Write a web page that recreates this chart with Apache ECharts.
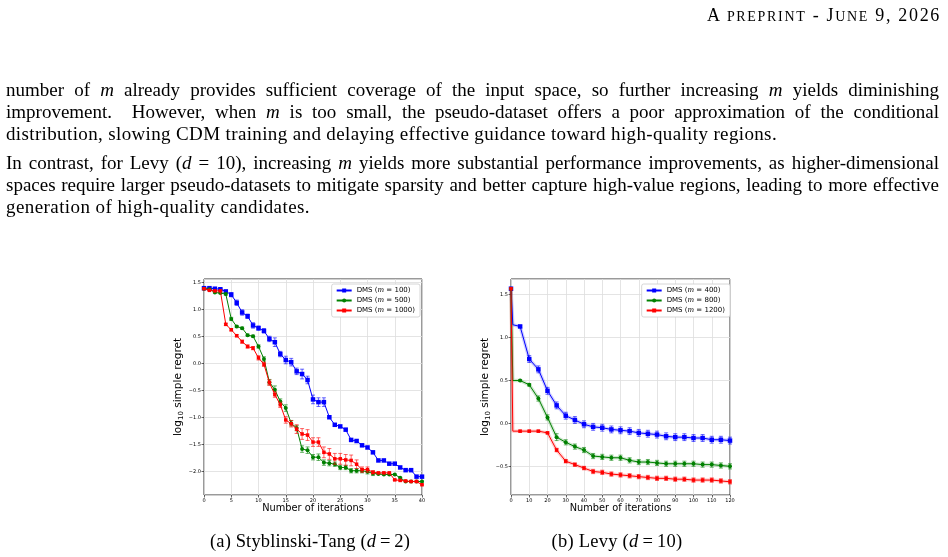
<!DOCTYPE html>
<html>
<head>
<meta charset="utf-8">
<script src="https://cdn.jsdelivr.net/npm/echarts@6/dist/echarts.min.js"></script>
<style>
  html, body { margin:0; padding:0; background:#fff; }
  body { width:948px; height:557px; position:relative; overflow:hidden; }
  #chart { position:absolute; left:0; top:0; width:948px; height:557px; }
  .t { position:absolute; font-family:"Liberation Serif", "Times New Roman", serif; font-size:19px; line-height:22px; color:#000; white-space:nowrap; }
  .j { left:6px; }
  .last { left:6px; text-align:left; }
  .hdr { right:7px; font-size:18px; }
  .hdr .sm { font-size:14px; }
  .cap { transform:translateX(-50%); font-size:18.5px; }
  i { font-style:italic; }
</style>
</head>
<body>
<div id="chart"></div>
<div class="t hdr" id="hdr" style="top:4px">A <span class="sm">PREPRINT</span> - J<span class="sm">UNE</span> 9, 2026</div>
<div class="t j" style="top:79px">number of <i>m</i> already provides sufficient coverage of the input space, so further increasing <i>m</i> yields diminishing</div>
<div class="t j" style="top:101px">improvement.&nbsp; However, when <i>m</i> is too small, the pseudo-dataset offers a poor approximation of the conditional</div>
<div class="t last" data-w="771" style="top:123px">distribution, slowing CDM training and delaying effective guidance toward high-quality regions.</div>
<div class="t j" style="top:152px">In contrast, for Levy (<i>d</i> = 10), increasing <i>m</i> yields more substantial performance improvements, as higher-dimensional</div>
<div class="t j" style="top:174px">spaces require larger pseudo-datasets to mitigate sparsity and better capture high-value regions, leading to more effective</div>
<div class="t last" data-w="304" style="top:196px">generation of high-quality candidates.</div>
<div class="t cap" data-w="200" style="top:530px;left:310px">(a) Styblinski-Tang (<i>d</i>&#8201;=&#8201;2)</div>
<div class="t cap" data-w="131" style="top:530px;left:617px">(b) Levy (<i>d</i>&#8201;=&#8201;10)</div>
<script>
// ---------- Data: Styblinski-Tang (d = 2) ----------
const stIter = [0,1,2,3,4,5,6,7,8,9,10,11,12,13,14,15,16,17,18,19,20,21,22,23,24,25,26,27,28,29,30,31,32,33,34,35,36,37,38,39,40];
const stNames = ['DMS (m = 100)', 'DMS (m = 500)', 'DMS (m = 1000)'];
const stBlue  = [1.39,1.39,1.38,1.37,1.33,1.27,1.12,0.94,0.87,0.70,0.65,0.60,0.45,0.39,0.17,0.06,0.02,-0.15,-0.20,-0.31,-0.67,-0.72,-0.72,-1.00,-1.14,-1.17,-1.23,-1.42,-1.44,-1.52,-1.56,-1.65,-1.80,-1.80,-1.86,-1.86,-1.93,-1.98,-1.98,-2.10,-2.10];
const stBlueErr = [0.01,0.01,0.01,0.01,0.02,0.04,0.05,0.05,0.04,0.05,0.04,0.04,0.05,0.08,0.05,0.07,0.07,0.06,0.09,0.07,0.08,0.08,0.08,0,0,0,0,0,0,0,0,0,0,0,0,0,0,0,0,0,0];
const stGreen = [1.38,1.37,1.31,1.30,1.28,0.82,0.68,0.65,0.52,0.50,0.31,0.08,-0.35,-0.49,-0.71,-0.83,-1.11,-1.20,-1.59,-1.61,-1.74,-1.74,-1.84,-1.85,-1.87,-1.93,-1.93,-1.99,-1.99,-1.99,-2.01,-2.04,-2.05,-2.06,-2.06,-2.06,-2.12,-2.19,-2.19,-2.19,-2.19];
const stGreenErr = [0.01,0.01,0.01,0.01,0.02,0.03,0.02,0.02,0.02,0.02,0.03,0.04,0.05,0.07,0.05,0.06,0.05,0.05,0.06,0.06,0.05,0.06,0.05,0.05,0.04,0.04,0.04,0.04,0.04,0.04,0.04,0.04,0.01,0.01,0.01,0.01,0.01,0.01,0.01,0.01,0.01];
const stRed   = [1.38,1.35,1.34,1.34,0.72,0.62,0.51,0.40,0.31,0.28,0.10,-0.02,-0.36,-0.58,-0.77,-1.05,-1.12,-1.22,-1.31,-1.33,-1.46,-1.46,-1.65,-1.68,-1.77,-1.77,-1.79,-1.80,-1.87,-1.97,-1.97,-2.02,-2.03,-2.03,-2.03,-2.16,-2.17,-2.18,-2.19,-2.19,-2.25];
const stRedErr = [0.01,0.01,0.01,0.01,0.02,0.02,0.02,0.03,0.03,0.03,0.04,0.04,0.05,0.05,0.05,0.06,0.06,0.08,0.10,0.10,0.08,0.08,0.10,0.10,0.10,0.10,0.10,0.10,0.08,0.05,0.05,0.03,0.01,0.01,0.01,0.01,0.01,0.01,0.01,0.01,0.01];

// ---------- Data: Levy (d = 10) ----------
const levyIter = [0,1,5,10,15,20,25,30,35,40,45,50,55,60,65,70,75,80,85,90,95,100,105,110,115,120];
const levyNames = ['DMS (m = 400)', 'DMS (m = 800)', 'DMS (m = 1200)'];
const levyBlue  = [1.57,1.15,1.13,0.75,0.63,0.38,0.21,0.09,0.04,-0.01,-0.04,-0.05,-0.07,-0.08,-0.09,-0.11,-0.12,-0.13,-0.15,-0.16,-0.16,-0.17,-0.17,-0.19,-0.19,-0.20];
const levyBlueErr = [0,0,0.01,0.04,0.04,0.04,0.04,0.04,0.04,0.04,0.04,0.04,0.04,0.04,0.04,0.04,0.04,0.04,0.04,0.04,0.04,0.04,0.04,0.04,0.04,0.04];
const levyGreen = [1.57,0.50,0.50,0.45,0.29,0.07,-0.16,-0.22,-0.27,-0.31,-0.38,-0.39,-0.40,-0.40,-0.43,-0.45,-0.45,-0.46,-0.47,-0.47,-0.47,-0.47,-0.48,-0.48,-0.49,-0.50];
const levyGreenErr = [0,0,0.01,0.015,0.03,0.03,0.04,0.03,0.03,0.03,0.03,0.03,0.03,0.03,0.03,0.03,0.03,0.03,0.03,0.03,0.03,0.03,0.03,0.03,0.03,0.03];
const levyRed   = [1.57,-0.09,-0.09,-0.09,-0.09,-0.11,-0.31,-0.44,-0.48,-0.52,-0.56,-0.57,-0.59,-0.60,-0.61,-0.62,-0.63,-0.64,-0.64,-0.65,-0.65,-0.66,-0.66,-0.66,-0.67,-0.68];
const levyRedErr = [0,0,0.01,0.01,0.01,0.01,0.02,0.02,0.02,0.02,0.025,0.025,0.025,0.025,0.025,0.025,0.025,0.025,0.025,0.025,0.025,0.025,0.025,0.025,0.025,0.025];

// ---------- text fitting (paper layout) ----------
(function () {
  const TEXT_W = 933;
  document.querySelectorAll('.j').forEach(el => {
    const spaces = (el.textContent.match(/[ \u00a0]/g) || []).length;
    let ws = 0;
    for (let it = 0; it < 3; it++) {
      const w = el.getBoundingClientRect().width;
      ws += (TEXT_W - w) / spaces;
      el.style.wordSpacing = ws + 'px';
    }
  });
  document.querySelectorAll('[data-w]').forEach(el => {
    const w = el.getBoundingClientRect().width;
    const n = el.textContent.length;
    el.style.letterSpacing = ((+el.dataset.w - w) / n) + 'px';
  });
  const h = document.getElementById('hdr');
  const hw = h.getBoundingClientRect().width;
  h.style.letterSpacing = ((234 - hw) / h.textContent.length) + 'px';
})();

const COLORS = ['#0000ff', '#008000', '#ff0000'];
const SYMBOLS = ['rect', 'circle', 'rect'];
const SIZES = [4.5, 4, 3.5];
const SANS = 'DejaVu Sans';

function fmtTick(v) {
  const s = Math.abs(v).toFixed(1);
  return (v < -1e-9 ? '\u2212' : '') + s;
}

function lineSeries(name, xs, ys, k, gi, opts) {
  opts = opts || {};
  return {
    name: name, type: 'line', xAxisIndex: gi, yAxisIndex: gi,
    data: xs.map((x, i) => (opts.noMark && opts.noMark.indexOf(i) >= 0)
      ? { value: [x, ys[i]], symbol: 'none' } : [x, ys[i]]),
    symbol: SYMBOLS[k], symbolSize: SIZES[k], showAllSymbol: true,
    itemStyle: { color: COLORS[k] },
    lineStyle: { color: COLORS[k], width: 1 },
    z: 4 + k, animation: false
  };
}
function bandSeries(xs, ys, k, gi) {
  return {
    type: 'line', xAxisIndex: gi, yAxisIndex: gi, silent: true,
    data: xs.map((x, i) => [x, ys[i]]), symbol: 'none',
    lineStyle: { color: COLORS[k], width: 3.5, opacity: 0.18 },
    z: 2, animation: false
  };
}
function errSeries(xs, ys, es, k, gi) {
  const data = [];
  xs.forEach((x, i) => { if (es[i] > 0) data.push([x, ys[i] - es[i], ys[i] + es[i]]); });
  return {
    type: 'custom', xAxisIndex: gi, yAxisIndex: gi, silent: true,
    z: 4 + k, animation: false,
    encode: { x: 0, y: [1, 2] },
    data: data,
    renderItem: function (params, api) {
      const x = api.value(0);
      const lo = api.coord([x, api.value(1)]);
      const hi = api.coord([x, api.value(2)]);
      const st = { stroke: COLORS[k], lineWidth: 1, opacity: 0.6 };
      const c = 2;
      return { type: 'group', children: [
        { type: 'line', shape: { x1: lo[0], y1: lo[1], x2: hi[0], y2: hi[1] }, style: st },
        { type: 'line', shape: { x1: lo[0] - c, y1: lo[1], x2: lo[0] + c, y2: lo[1] }, style: st },
        { type: 'line', shape: { x1: hi[0] - c, y1: hi[1], x2: hi[0] + c, y2: hi[1] }, style: st }
      ]};
    }
  };
}

function xAxisCfg(gi, max, interval) {
  return {
    type: 'value', gridIndex: gi, min: 0, max: max, interval: interval,
    name: 'Number of iterations', nameLocation: 'middle', nameGap: 8,
    nameTextStyle: { fontSize: 9.8, fontFamily: SANS, color: '#000' },
    axisLine: { show: false, onZero: false },
    axisTick: { show: true, length: 2.5, lineStyle: { color: '#000', width: 0.6 } },
    axisLabel: { fontSize: 5, fontFamily: SANS, color: '#000', margin: 3 },
    splitLine: { show: true, lineStyle: { color: '#dddddd', width: 0.8 } }
  };
}
function yAxisCfg(gi, min, max, split) {
  return {
    type: 'value', gridIndex: gi, min: min, max: max, splitNumber: split,
    name: '{a|log}{s|10}{a| simple regret}', nameLocation: 'middle', nameGap: 14, nameRotate: 90,
    nameTextStyle: { fontSize: 10.5, fontFamily: SANS, color: '#000',
      rich: { a: { fontSize: 10.5, fontFamily: SANS, color: '#000', lineHeight: 14 },
              s: { fontSize: 7, fontFamily: SANS, color: '#000', lineHeight: 14, verticalAlign: 'bottom' } } },
    axisLine: { show: false, onZero: false },
    axisTick: { show: true, length: 2.5, lineStyle: { color: '#000', width: 0.6 } },
    axisLabel: { fontSize: 5, fontFamily: SANS, color: '#000', margin: 3,
      showMinLabel: false, showMaxLabel: false, formatter: fmtTick },
    splitLine: { show: true, lineStyle: { color: '#dddddd', width: 0.8 } }
  };
}
function legendCfg(names, right) {
  return {
    data: names, orient: 'vertical', right: right, top: 284,
    backgroundColor: '#fff', borderColor: '#cccccc', borderWidth: 0.8, borderRadius: 2,
    padding: [3, 5, 3, 4], itemGap: 3, itemWidth: 15, itemHeight: 5,
    textStyle: { fontSize: 7, fontFamily: SANS, color: '#000',
      rich: { i: { fontSize: 7, fontFamily: 'DejaVu Serif', fontStyle: 'italic', color: '#000' } } },
    formatter: n => n.replace('(m =', '({i|m} =')
  };
}

const series = [];
[[stBlue, stBlueErr], [stGreen, stGreenErr], [stRed, stRedErr]].forEach((p, k) => {
  series.push(errSeries(stIter, p[0], p[1], k, 0));
  series.push(lineSeries(stNames[k], stIter, p[0], k, 0));
});
[[levyBlue, levyBlueErr], [levyGreen, levyGreenErr], [levyRed, levyRedErr]].forEach((p, k) => {
  series.push(bandSeries(levyIter, p[0], k, 1));
  series.push(errSeries(levyIter, p[0], p[1], k, 1));
  series.push(lineSeries(levyNames[k], levyIter, p[0], k, 1, { noMark: [1] }));
});

const chart = echarts.init(document.getElementById('chart'), null, { renderer: 'canvas' });
chart.setOption({
  animation: false,
  backgroundColor: '#fff',
  grid: [
    { left: 204, top: 279, width: 218, height: 216, show: true, borderColor: '#000', borderWidth: 0.8, backgroundColor: 'transparent' },
    { left: 511, top: 279, width: 219, height: 216, show: true, borderColor: '#000', borderWidth: 0.8, backgroundColor: 'transparent' }
  ],
  xAxis: [xAxisCfg(0, 40, 5), xAxisCfg(1, 120, 10)],
  yAxis: [yAxisCfg(0, -2.44, 1.56, 8), yAxisCfg(1, -0.834, 1.683, 5)],
  legend: [legendCfg(stNames, 948 - 420), legendCfg(levyNames, 948 - 730)],
  series: series
});
</script>
</body>
</html>
